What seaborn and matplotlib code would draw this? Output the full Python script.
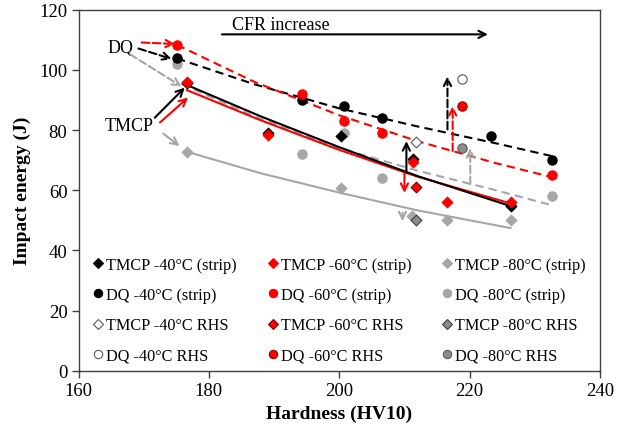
import matplotlib
matplotlib.use("Agg")
import matplotlib.pyplot as plt
import seaborn as sns
import pandas as pd
import numpy as np

# ---------------- data ----------------
tmcp40_x = [176.6, 189.0, 200.3, 211.3, 226.3]
tmcp40_y = [95.5, 79.0, 78.0, 70.5, 54.7]
tmcp60_x = [176.6, 189.0, 211.3, 216.6, 226.3]
tmcp60_y = [96.0, 78.2, 69.3, 56.0, 56.0]
tmcp80_x = [176.6, 200.3, 211.2, 216.6, 226.3]
tmcp80_y = [72.8, 60.8, 51.3, 50.2, 50.2]
dq40_x = [175.1, 194.3, 200.7, 206.6, 223.3, 232.7]
dq40_y = [104.0, 90.0, 88.0, 84.0, 78.0, 70.0]
dq60_x = [175.1, 194.3, 200.7, 206.6, 232.7]
dq60_y = [108.3, 92.0, 83.0, 79.0, 65.0]
dq80_x = [175.1, 194.3, 200.7, 206.6, 232.7]
dq80_y = [102.0, 72.0, 79.0, 64.0, 58.0]
tmcp40_rhs_x, tmcp40_rhs_y = [211.8], [76.0]
tmcp60_rhs_x, tmcp60_rhs_y = [211.8], [61.0]
tmcp80_rhs_x, tmcp80_rhs_y = [211.8], [50.0]
dq40_rhs_x, dq40_rhs_y = [218.8], [97.0]
dq60_rhs_x, dq60_rhs_y = [218.8], [88.0]
dq80_rhs_x, dq80_rhs_y = [218.8], [74.0]

# trend lines
tr_dq40_x = [175.1, 187, 200, 212, 224, 232.7]
tr_dq40_y = [103.8, 95.2, 87.2, 81.2, 75.6, 71.3]
tr_dq60_x = [175.1, 187, 200, 212, 224, 232.7]
tr_dq60_y = [108.3, 96.0, 84.9, 76.3, 69.0, 64.3]
tr_dq80_x = [175.8, 187, 200, 212, 224, 232.6]
tr_dq80_y = [95.3, 84.5, 74.0, 66.5, 60.0, 55.0]
tr_tmcp40_x = [176.6, 188, 200, 212, 226.3]
tr_tmcp40_y = [95.0, 84.5, 74.3, 64.7, 54.7]
tr_tmcp60_x = [176.6, 188, 200, 212, 226.3]
tr_tmcp60_y = [93.3, 83.2, 73.4, 64.5, 55.6]
tr_tmcp80_x = [176.6, 188, 200, 212, 226.3]
tr_tmcp80_y = [72.8, 65.6, 59.2, 53.3, 47.4]

x_ticks = [160, 180, 200, 220, 240]
y_ticks = [0, 20, 40, 60, 80, 100, 120]

RED = "#FF0000"
GRAY = "#A6A6A6"

sns.set_theme(style="white")
plt.rcParams["font.family"] = ["Liberation Serif", "DejaVu Serif"]
plt.rcParams["text.color"] = "black"
plt.rcParams["axes.labelcolor"] = "black"
plt.rcParams["xtick.color"] = "black"
plt.rcParams["ytick.color"] = "black"

fig = plt.figure(figsize=(6.29, 4.35), dpi=100)
ax = fig.add_axes([78.5 / 629, 1 - 371.7 / 435, (600 - 78.5) / 629, (371.7 - 10.7) / 435])

# ---------------- trend lines ----------------
trends = [
    (tr_dq40_x, tr_dq40_y, "black", (0, (4, 2.5))),
    (tr_dq60_x, tr_dq60_y, RED, (0, (4, 2.5))),
    (tr_dq80_x, tr_dq80_y, GRAY, (0, (4, 2.5))),
    (tr_tmcp80_x, tr_tmcp80_y, GRAY, "-"),
    (tr_tmcp60_x, tr_tmcp60_y, RED, "-"),
    (tr_tmcp40_x, tr_tmcp40_y, "black", "-"),
]
for tx, ty, c, ls in trends:
    sns.lineplot(x=tx, y=ty, ax=ax, color=c, linestyle=ls, linewidth=1.5,
                 sort=False, legend=False, zorder=2)

# ---------------- scatter series ----------------
series = [
    ("TMCP -40°C (strip)", tmcp40_x, tmcp40_y, "D", "black", "black", 30),
    ("DQ -40°C (strip)", dq40_x, dq40_y, "o", "black", "black", 45),
    ("TMCP -40°C RHS", tmcp40_rhs_x, tmcp40_rhs_y, "D", "white", "#595959", 30),
    ("DQ -40°C RHS", dq40_rhs_x, dq40_rhs_y, "o", "white", "#595959", 45),
    ("TMCP -60°C (strip)", tmcp60_x, tmcp60_y, "D", RED, RED, 30),
    ("DQ -60°C (strip)", dq60_x, dq60_y, "o", RED, RED, 45),
    ("TMCP -60°C RHS", tmcp60_rhs_x, tmcp60_rhs_y, "D", RED, "#7F0000", 30),
    ("DQ -60°C RHS", dq60_rhs_x, dq60_rhs_y, "o", RED, "#990000", 45),
    ("TMCP -80°C (strip)", tmcp80_x, tmcp80_y, "D", GRAY, GRAY, 30),
    ("DQ -80°C (strip)", dq80_x, dq80_y, "o", GRAY, GRAY, 45),
    ("TMCP -80°C RHS", tmcp80_rhs_x, tmcp80_rhs_y, "D", "#8C8C8C", "#404040", 30),
    ("DQ -80°C RHS", dq80_rhs_x, dq80_rhs_y, "o", "#8C8C8C", "#595959", 45),
]
draw_order = [9, 8, 0, 1, 4, 5, 2, 3, 6, 7, 10, 11]
handles = {}
for i in draw_order:
    lab, xs, ys, m, fc, ec, s = series[i]
    df = pd.DataFrame({"x": xs, "y": ys})
    sns.scatterplot(data=df, x="x", y="y", ax=ax, marker=m, color=fc,
                    edgecolor=ec, linewidth=0.8, s=s, zorder=3, legend=False)
    handles[i] = plt.Line2D([], [], linestyle="none", marker=m, markerfacecolor=fc,
                            markeredgecolor=ec, markeredgewidth=0.8,
                            markersize=5.0 if m == "D" else 6.0)

leg = ax.legend([handles[i] for i in range(12)], [series[i][0] for i in range(12)],
                ncol=3, loc="upper left", bbox_to_anchor=(0.027, 0.316),
                frameon=False, fontsize=11.7, handlelength=0.7, handletextpad=0.15,
                columnspacing=1.85, labelspacing=0.88, borderaxespad=0, borderpad=0,
                markerscale=1.0)

# ---------------- annotations ----------------
def arrow(x0, y0, x1, y1, color, ls="-"):
    ax.annotate("", xy=(x1, y1), xytext=(x0, y0),
                arrowprops=dict(arrowstyle="->", color=color, lw=1.5, linestyle=ls,
                                shrinkA=0, shrinkB=0, mutation_scale=13), zorder=4)

arrow(182.0, 111.8, 222.8, 111.8, "black")
ax.text(183.5, 115.2, "CFR increase", fontsize=13, ha="left", va="center")

ax.text(166.4, 107.5, "DQ", fontsize=13, ha="center", va="center")
arrow(169.7, 109.1, 174.8, 108.6, RED, "--")
arrow(169.2, 107.1, 174.3, 103.6, "black", "--")
arrow(167.9, 105.2, 175.8, 94.5, GRAY, "--")

ax.text(167.7, 81.6, "TMCP", fontsize=13, ha="center", va="center")
arrow(171.7, 84.1, 176.3, 94.1, "black")
arrow(172.5, 82.5, 176.8, 90.8, RED)
arrow(173.0, 78.8, 175.5, 74.7, GRAY)

arrow(216.6, 80.2, 216.6, 97.8, "black", "--")
arrow(217.4, 73.0, 217.4, 88.0, RED, "--")
arrow(220.1, 62.0, 220.1, 74.0, GRAY, "--")
arrow(210.3, 65.8, 210.3, 76.3, "black")
arrow(210.0, 65.8, 210.0, 59.1, RED)
arrow(209.7, 52.5, 209.7, 49.7, GRAY)

# ---------------- axes styling ----------------
ax.set_xlim(160, 240)
ax.set_ylim(0, 120)
ax.set_xticks(x_ticks)
ax.set_yticks(y_ticks)
ax.tick_params(axis="both", which="major", direction="out", length=5, width=1,
               labelsize=13.5, color="#404040", labelcolor="black", pad=3,
               bottom=True, left=True, top=False, right=False)
for sp in ax.spines.values():
    sp.set_visible(True)
    sp.set_color("#404040")
    sp.set_linewidth(1.0)
ax.set_xlabel("Hardness (HV10)", fontsize=14, fontweight="bold", labelpad=4, color="black")
ax.set_ylabel("Impact energy (J)", fontsize=14, fontweight="bold", labelpad=6, color="black")
ax.grid(False)

fig.savefig("out.png", dpi=100)
